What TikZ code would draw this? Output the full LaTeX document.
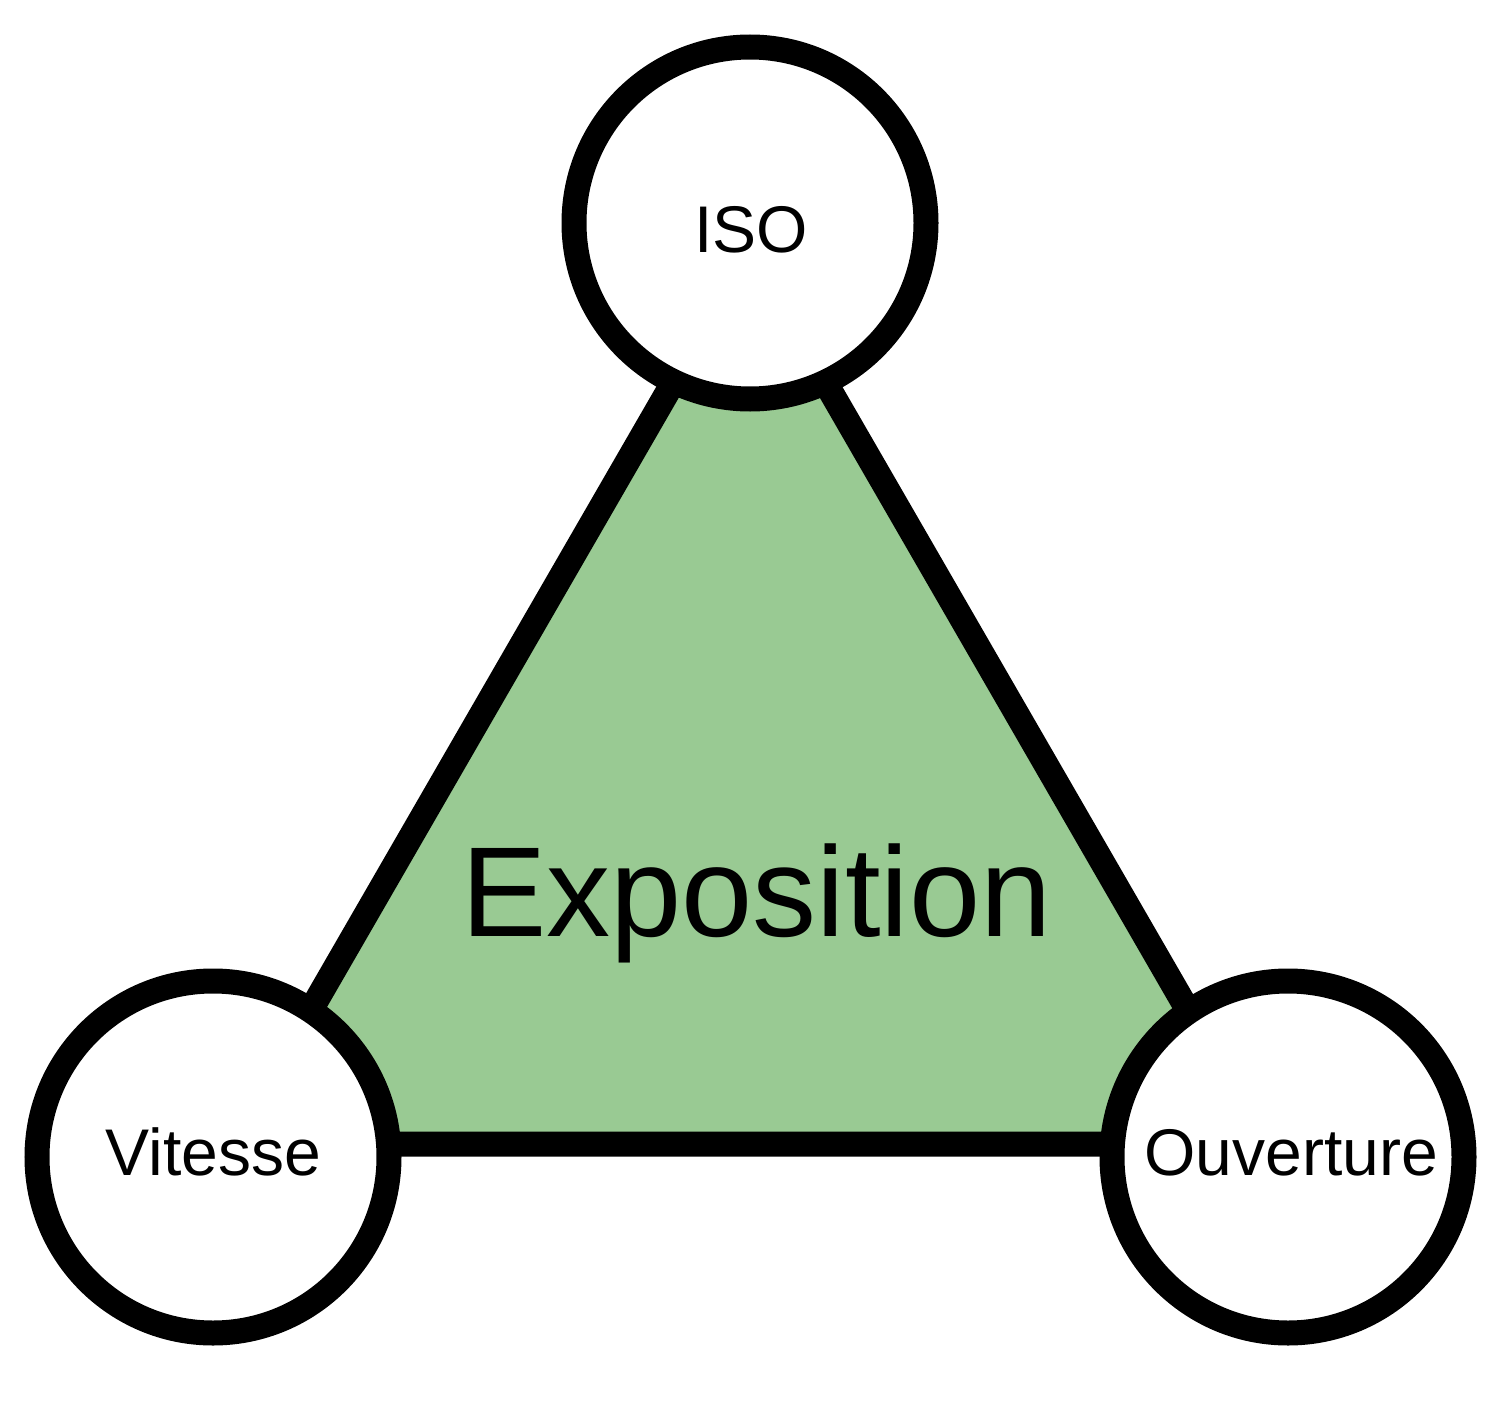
\documentclass[tikz,border=0pt]{standalone}
\usepackage{fontspec}
\setmainfont{Liberation Sans}
\definecolor{expgreen}{RGB}{153,202,147}
\begin{document}
\begin{tikzpicture}[x=1pt,y=-1pt,
  ring/.style={circle,draw=black,fill=white,line width=25pt,minimum size=352pt,inner sep=0pt},
  small/.style={anchor=base,inner sep=0pt,font=\fontsize{66}{70}\selectfont},
  big/.style={anchor=base,inner sep=0pt,font=\fontsize{128}{134}\selectfont}]
\useasboundingbox (0,0) rectangle (1500,1410);
\coordinate (tA) at (749.3,250.6);
\coordinate (tB) at (233.5,1144);
\coordinate (tC) at (1265.1,1144);
\draw[line width=25pt,fill=expgreen] (tA) -- (tB) -- (tC) -- cycle;
\node[big] (expo) at (756.5,936) {Exposition};
\node[ring] (iso) at (750,223) {};
\node[ring] (vit) at (213,1157) {};
\node[ring] (ouv) at (1288,1157) {};
\node[small] (isot) at (751,252) {ISO};
\node[small] (vitt) at (213.5,1175) {Vitesse};
\node[small] (ouvt) at (1291,1175) {Ouverture};
\end{tikzpicture}
\end{document}
